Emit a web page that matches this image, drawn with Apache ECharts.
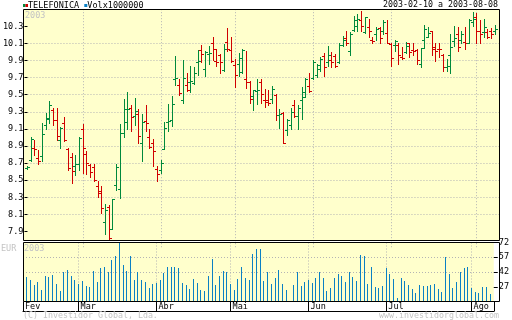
<!DOCTYPE html>
<html><head><meta charset="utf-8">
<script src="https://cdn.jsdelivr.net/npm/echarts@6/dist/echarts.min.js"></script>
<style>html,body{margin:0;padding:0;background:#fff}#c{width:512px;height:320px}</style>
</head><body><div id="c"></div>
<script>
// ---- data ----
const opens = [
 8.64,8.74,8.88,8.76,8.78,9.15,9.22,9.32,9.20,8.97,
 9.17,8.87,8.77,8.67,8.69,9.10,8.81,8.68,8.66,8.43,
 8.37,8.01,8.19,7.93,8.44,8.40,9.05,9.18,9.35,9.25,
 9.28,8.93,9.19,9.01,8.93,8.63,8.62,8.87,9.18,9.20,
 9.68,9.61,9.44,9.61,9.65,9.64,9.88,10.02,9.80,9.98,
 10.10,9.89,9.96,9.79,10.12,10.02,9.85,9.86,9.77,9.68,
 9.65,9.49,9.54,9.65,9.44,9.44,9.45,9.50,9.26,9.29,
 9.09,9.15,9.38,9.25,9.44,9.47,9.60,9.69,9.73,9.80,
 9.95,9.88,9.90,9.95,9.88,10.08,10.16,10.01,10.26,10.30,
 10.37,10.23,10.29,10.14,10.21,10.28,10.25,10.22,10.09,10.08,
 10.08,9.94,10.00,10.10,10.02,10.02,9.86,10.14,10.18,10.25,
 10.03,10.04,9.96,9.82,9.96,10.13,10.21,10.14,10.12,10.11,
 10.35,10.41,10.25,10.23,10.23,10.25,10.25];
const highs = [
 8.67,9.01,8.97,8.85,9.17,9.29,9.43,9.34,9.35,9.12,
 9.24,8.88,8.82,8.79,9.00,9.16,8.84,8.69,8.69,8.49,
 8.43,8.22,8.21,8.28,8.69,9.16,9.45,9.53,9.38,9.46,
 9.33,9.27,9.38,9.10,8.98,8.67,8.74,9.18,9.39,9.48,
 9.95,9.68,9.90,9.75,9.84,9.82,10.02,10.08,10.01,10.07,
 10.17,10.03,9.98,10.09,10.28,10.18,9.92,9.99,10.04,10.01,
 9.66,9.56,9.68,9.68,9.57,9.55,9.60,9.51,9.33,9.30,
 9.22,9.35,9.44,9.38,9.59,9.69,9.75,9.90,9.86,9.94,
 9.99,10.07,10.00,9.98,10.10,10.19,10.25,10.23,10.42,10.44,
 10.48,10.41,10.38,10.17,10.29,10.29,10.37,10.37,10.10,10.14,
 10.10,10.06,10.12,10.10,10.10,10.03,10.05,10.32,10.29,10.25,
 10.10,10.10,9.98,9.92,10.21,10.30,10.29,10.25,10.29,10.39,
 10.47,10.45,10.37,10.39,10.27,10.28,10.32];
const lows = [
 8.63,8.73,8.80,8.69,8.72,9.10,9.17,9.15,8.97,8.88,
 8.96,8.62,8.47,8.56,8.62,8.58,8.57,8.54,8.49,8.30,
 8.12,7.87,7.81,7.93,8.39,8.29,9.00,9.10,9.08,9.14,
 8.94,8.73,9.08,8.88,8.67,8.49,8.59,8.86,9.08,9.13,
 9.61,9.50,9.40,9.54,9.53,9.63,9.73,9.88,9.72,9.86,
 9.91,9.84,9.75,9.78,10.01,9.88,9.59,9.72,9.75,9.58,
 9.40,9.32,9.39,9.40,9.36,9.38,9.40,9.20,9.11,8.93,
 9.03,9.10,9.24,9.10,9.22,9.47,9.53,9.68,9.71,9.78,
 9.72,9.84,9.82,9.82,9.87,10.07,10.08,9.97,10.25,10.25,
 10.25,10.22,10.17,10.10,10.14,10.10,10.21,10.10,9.83,10.01,
 9.86,9.92,9.99,9.94,9.96,9.86,9.82,10.05,10.17,9.96,
 9.89,9.94,9.78,9.78,9.75,10.07,10.01,10.10,10.03,10.10,
 10.30,10.10,10.10,10.18,10.16,10.16,10.21];
const closes = [
 8.66,8.98,8.87,8.73,9.04,9.23,9.38,9.20,9.02,9.11,
 8.97,8.64,8.61,8.69,8.99,8.88,8.70,8.60,8.50,8.35,
 8.18,8.15,7.82,8.28,8.66,9.05,9.33,9.33,9.24,9.31,
 9.02,9.18,9.17,8.89,8.84,8.57,8.70,9.11,9.19,9.39,
 9.70,9.52,9.69,9.56,9.66,9.75,9.89,9.98,10.00,9.99,
 10.03,9.88,9.88,10.03,10.03,9.89,9.73,9.93,10.02,9.65,
 9.45,9.55,9.55,9.51,9.42,9.40,9.57,9.26,9.27,8.94,
 9.20,9.30,9.25,9.35,9.53,9.68,9.54,9.88,9.85,9.92,
 9.82,9.97,9.88,9.84,10.08,10.14,10.10,10.21,10.37,10.39,
 10.30,10.41,10.25,10.13,10.27,10.16,10.35,10.10,9.93,10.13,
 9.97,9.93,10.07,10.00,10.01,9.90,10.05,10.27,10.22,10.06,
 10.01,10.03,9.82,9.83,10.06,10.16,10.06,10.21,10.10,10.37,
 10.39,10.25,10.21,10.29,10.18,10.21,10.27];
const volumes = [
 null,36.5,34,29,31.5,24,38,36.5,38.5,30,
 23,41.5,44,38,34,30,33,28,27,43.5,
 31.5,46,47.5,41.5,54,58.5,72,49.5,43.5,58.5,
 34,42.5,34,32,25.5,30,31,33.5,40.5,47.5,
 47.5,47.5,46.3,31.3,28.7,25.2,35.3,30.5,23.2,22.2,
 38,55,28.5,37.5,43,42.5,30,24,34.5,47.5,
 36,34.3,60.3,65.3,65.3,33.3,41.5,30.3,36,44.2,
 30.3,24.2,13,28.3,41.5,27.6,32.2,34.2,31,36.2,
 41.5,35.5,22.2,26.2,36.2,39.5,38,31.5,42.5,36.5,
 32.5,59.2,58.2,30.2,47.5,26.5,25.7,27.3,46.3,39.7,
 35,15.3,35.7,32.7,28.3,24.3,20.3,29,27.7,27.7,
 28.3,29.3,24.3,21.7,57.7,39.7,25.3,31.7,42.3,45.7,
 47.3,25.7,21.7,20.7,26.3,26.3,20];
const priceTicks = [7.9,8.1,8.3,8.5,8.7,8.9,9.1,9.3,9.5,9.7,9.9,10.1,10.3];
const volTicks = [27,42,57,72];
const monthNames = ['Jan','Fev','Mar','Abr','Mai','Jun','Jul','Ago','Set','Out','Nov','Dez'];
const holidays = ['2003-04-18','2003-04-21','2003-05-01'];
const startDate = '2003-02-10', endDate = '2003-08-08';

// ---- trading-day categories ----
const dates = [];
for (let d = new Date(startDate + 'T00:00:00Z'); d <= new Date(endDate + 'T00:00:00Z'); d.setUTCDate(d.getUTCDate() + 1)) {
  const wd = d.getUTCDay(), s = d.toISOString().slice(0, 10);
  if (wd !== 0 && wd !== 6 && holidays.indexOf(s) < 0) dates.push(s);
}
const cats = dates.concat(['']);
const labelFor = cats.map((s, i) => {
  if (!s) return '';
  const m = +s.slice(5, 7);
  if (i === 0) return monthNames[m - 1];
  return (m !== +dates[i - 1].slice(5, 7)) ? monthNames[m - 1] : '';
});
const isMonthStart = i => i > 0 && labelFor[i] !== '';

const GREEN = '#00893c', RED = '#d00000', BLUE = '#0a80c4', BG = '#ffffcc';
const GRIDC = '#b4b4b4';
const FONT = 'DejaVu Sans Mono';
const VOL_MIN = 12;

const ohlc = opens.map((o, i) => [i, o, highs[i], lows[i], closes[i]]);
const vols = [];
volumes.forEach((v, i) => { if (v != null) vols.push([i, v]); });

const dotted = { color: GRIDC, width: 1, type: [1, 2] };
const sq = (c, w) => ({ backgroundColor: c, width: w, height: 3, lineHeight: 9, fontSize: 1 });

const chart = echarts.init(document.getElementById('c'), null, { renderer: 'canvas' });
chart.setOption({
  animation: false,
  backgroundColor: '#fff',
  title: [
    { left: 23, top: 1, padding: 0,
      text: '{g| }{r| }{t|TELEFONICA }{b| }{t|Volx1000000}',
      textStyle: { fontFamily: FONT, fontSize: 8.5, fontWeight: 'normal', color: '#000',
        rich: { g: sq(GREEN, 2.5), r: sq(RED, 2.5), b: sq(BLUE, 3),
                t: { fontFamily: FONT, fontSize: 8.5, color: '#000', lineHeight: 9, padding: [0, 0, 0, 0] } } } },
    { right: 14, top: 1, padding: 0, text: startDate + ' a ' + endDate,
      textStyle: { fontFamily: FONT, fontSize: 8.3, fontWeight: 'normal', color: '#000' } },
    { left: 25, top: 11, padding: 0, text: '2003',
      textStyle: { fontFamily: FONT, fontSize: 8.5, fontWeight: 'normal', color: '#c4c4c4' } },
    { left: 24, top: 244, padding: 0, text: '2003',
      textStyle: { fontFamily: FONT, fontSize: 8.5, fontWeight: 'normal', color: '#c4c4c4' } },
    { left: 1, top: 244, padding: 0, text: 'EUR',
      textStyle: { fontFamily: FONT, fontSize: 8.5, fontWeight: 'normal', color: '#c4c4c4' } },
    { left: 23, top: 312, padding: 0, text: '(C) Investidor Global, Lda.',
      textStyle: { fontFamily: FONT, fontSize: 8.3, fontWeight: 'normal', color: '#c4c4c4' } },
    { right: 13, top: 312, padding: 0, text: 'www.investidorglobal.com',
      textStyle: { fontFamily: FONT, fontSize: 8.3, fontWeight: 'normal', color: '#c4c4c4' } }
  ],
  grid: [
    { left: 23, width: 476, top: 9.2, height: 239.4, show: false },
    { left: 23, width: 476, top: 242.5, height: 59, show: true, backgroundColor: BG, borderWidth: 0 },
    { left: 23, width: 477, top: 9, height: 232, show: true, backgroundColor: BG, borderWidth: 0, z: -1 },
    { left: 23.5, width: 476, top: 9.5, height: 231, show: true, backgroundColor: 'transparent', borderColor: '#000', borderWidth: 1, z: 10 },
    { left: 23.5, width: 476, top: 242.5, height: 59, show: true, backgroundColor: 'transparent', borderColor: '#000', borderWidth: 1, z: 10 }
  ],
  xAxis: [
    { gridIndex: 0, type: 'category', data: cats, boundaryGap: false,
      axisLine: { show: false }, axisTick: { show: false }, axisLabel: { show: false },
      splitLine: { show: true, interval: (i) => isMonthStart(i), lineStyle: dotted } },
    { gridIndex: 1, type: 'category', data: cats, boundaryGap: false, position: 'bottom',
      axisLine: { show: false },
      axisTick: { show: true, length: 10, interval: (i) => labelFor[i] !== '' || i === cats.length - 1,
                  lineStyle: { color: '#000', width: 1 } },
      axisLabel: { show: true, interval: (i) => labelFor[i] !== '', formatter: (v, i) => labelFor[i],
                   align: 'left', padding: [0, 0, 0, 2], margin: 1,
                   fontFamily: FONT, fontSize: 8.5, color: '#000' },
      splitLine: { show: true, interval: (i) => isMonthStart(i), lineStyle: dotted } },
    { gridIndex: 1, type: 'category', data: cats, boundaryGap: false, position: 'bottom', offset: 10,
      axisLine: { show: true, lineStyle: { color: '#000', width: 1 } },
      axisTick: { show: false }, axisLabel: { show: false }, splitLine: { show: false } },
    { gridIndex: 2, type: 'value', show: false },
    { gridIndex: 3, type: 'value', show: false },
    { gridIndex: 4, type: 'value', show: false }
  ],
  yAxis: [
    { gridIndex: 0, type: 'value', min: 7.7, max: 10.5, interval: 0.2, position: 'left',
      axisLine: { show: false },
      axisTick: { show: true, length: 3, customValues: priceTicks, lineStyle: { color: '#000' } },
      axisLabel: { show: true, customValues: priceTicks, margin: 4,
                   formatter: v => v.toFixed(1), fontFamily: FONT, fontSize: 8.5, color: '#000' },
      splitLine: { show: true, showMinLine: false, showMaxLine: false, lineStyle: dotted } },
    { gridIndex: 1, type: 'value', min: VOL_MIN, max: 72, interval: 15, position: 'right',
      axisLine: { show: false },
      axisTick: { show: true, length: 4, customValues: volTicks, lineStyle: { color: '#000' } },
      axisLabel: { show: true, customValues: volTicks, margin: 5,
                   fontFamily: FONT, fontSize: 8.5, color: '#000' },
      splitLine: { show: true, showMinLine: false, showMaxLine: false, lineStyle: dotted } },
    { gridIndex: 2, type: 'value', show: false },
    { gridIndex: 3, type: 'value', show: false },
    { gridIndex: 4, type: 'value', show: false }
  ],
  series: [
    { type: 'custom', xAxisIndex: 0, yAxisIndex: 0, data: ohlc, z: 3,
      encode: { x: 0, y: [1, 2, 3, 4] },
      renderItem: (params, api) => {
        const i = api.value(0), o = api.value(1), h = api.value(2), l = api.value(3), c = api.value(4);
        const pH = api.coord([i, h]), pL = api.coord([i, l]), pO = api.coord([i, o]), pC = api.coord([i, c]);
        const x = Math.floor(pH[0]);
        const yH = Math.round(pH[1]), yL = Math.round(pL[1]);
        const col = c >= o ? GREEN : RED;
        return { type: 'group', children: [
          { type: 'rect', shape: { x: x, y: yH, width: 1, height: Math.max(1, yL - yH + 1) }, style: { fill: col } },
          { type: 'rect', shape: { x: x - 2, y: Math.round(pO[1]), width: 2, height: 1 }, style: { fill: col } },
          { type: 'rect', shape: { x: x + 1, y: Math.round(pC[1]), width: 2, height: 1 }, style: { fill: col } }
        ] };
      } },
    { type: 'custom', xAxisIndex: 1, yAxisIndex: 1, data: vols, z: 3,
      encode: { x: 0, y: 1 },
      renderItem: (params, api) => {
        const i = api.value(0), v = api.value(1);
        const top = api.coord([i, v]), base = api.coord([i, VOL_MIN]);
        const x = Math.floor(top[0]);
        const yt = Math.round(top[1]);
        return { type: 'rect', shape: { x: x, y: yt, width: 1, height: Math.round(base[1]) - yt }, style: { fill: BLUE } };
      } }
  ]
});
</script>
</body></html>
